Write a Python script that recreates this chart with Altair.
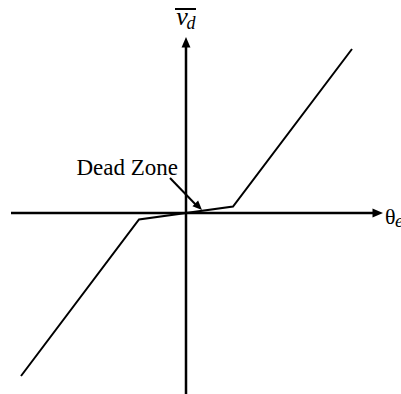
import altair as alt
import pandas as pd

# Dead-zone characteristic: tracking error theta_e vs. mean drive voltage v_d
theta_e = [-165, -47, 47, 166]
v_d = [-163, -6.5, 6.5, 164]

# Coordinate axes (drawn as arrows through the origin)
axis_x_span = [-175, 192]
axis_y_span = [-181, 171]
arrow_tips_x = [197, 0, 16]
arrow_tips_y = [0, 176, 3]
arrow_angles = [90, 0, 135]

# "Dead Zone" pointer
pointer_x = [-16, 12]
pointer_y = [35, 6]

W, H = 401, 394
xs = alt.Scale(domain=[-186, 215], range=[0, W], nice=False, zero=False)
ys = alt.Scale(domain=[-181, 213], range=[H, 0], nice=False, zero=False)
X = lambda f: alt.X(f, type="quantitative", scale=xs, axis=None)
Y = lambda f: alt.Y(f, type="quantitative", scale=ys, axis=None)

curve = alt.Chart(pd.DataFrame({"x": theta_e, "y": v_d, "o": range(4)})).mark_line(
    color="black", strokeWidth=2
).encode(x=X("x"), y=Y("y"), order="o:O")

axes_df = pd.DataFrame({
    "x": [axis_x_span[0], axis_x_span[1], 0, 0],
    "y": [0, 0, axis_y_span[0], axis_y_span[1]],
    "seg": ["h", "h", "v", "v"],
})
axes = alt.Chart(axes_df).mark_line(color="black", strokeWidth=2.5).encode(
    x=X("x"), y=Y("y"), detail="seg:N"
)

pointer = alt.Chart(pd.DataFrame({"x": pointer_x, "y": pointer_y})).mark_line(
    color="black", strokeWidth=2
).encode(x=X("x"), y=Y("y"))

heads_df = pd.DataFrame({"x": arrow_tips_x, "y": arrow_tips_y, "a": arrow_angles,
                         "s": [110, 110, 90]})
heads = alt.Chart(heads_df).mark_point(
    shape="M0,0L0.85,2L-0.85,2Z", filled=True, color="black", opacity=1, strokeWidth=0
).encode(x=X("x"), y=Y("y"), angle=alt.Angle("a:Q", scale=None),
         size=alt.Size("s:Q", scale=None))

serif = "Liberation Serif"

dead_label = alt.Chart(pd.DataFrame({"x": [-8], "y": [38], "t": ["Dead Zone"]})).mark_text(
    font=serif, fontSize=23, align="right", baseline="alphabetic", color="black"
).encode(x=X("x"), y=Y("y"), text="t:N")

# Vertical axis label: v_d with an overbar
v_main = alt.Chart(pd.DataFrame({"x": [-4], "y": [188], "t": ["v"]})).mark_text(
    font=serif, fontSize=26, fontStyle="italic", align="center", baseline="alphabetic", color="black"
).encode(x=X("x"), y=Y("y"), text="t:N")
v_sub = alt.Chart(pd.DataFrame({"x": [5], "y": [184], "t": ["d"]})).mark_text(
    font=serif, fontSize=18, fontStyle="italic", align="center", baseline="alphabetic", color="black"
).encode(x=X("x"), y=Y("y"), text="t:N")
v_bar = alt.Chart(pd.DataFrame({"x": [-11], "x2": [10], "y": [204]})).mark_rule(
    color="black", strokeWidth=2
).encode(x=X("x"), x2="x2", y=Y("y"))

# Horizontal axis label: theta_e
th_main = alt.Chart(pd.DataFrame({"x": [199], "y": [-11], "t": ["θ"]})).mark_text(
    font=serif, fontSize=22, align="left", baseline="alphabetic", color="black"
).encode(x=X("x"), y=Y("y"), text="t:N")
th_sub = alt.Chart(pd.DataFrame({"x": [209], "y": [-14], "t": ["e"]})).mark_text(
    font=serif, fontSize=19, fontStyle="italic", align="left", baseline="alphabetic", color="black"
).encode(x=X("x"), y=Y("y"), text="t:N")

chart = alt.layer(
    axes, curve, pointer, heads, dead_label, v_main, v_sub, v_bar, th_main, th_sub
).properties(
    width=W, height=H, padding=0, autosize=alt.AutoSizeParams(type="none"),
    background="white"
).configure_view(stroke=None)

chart.save("out.html", embed_options={"renderer": "svg", "actions": False})
